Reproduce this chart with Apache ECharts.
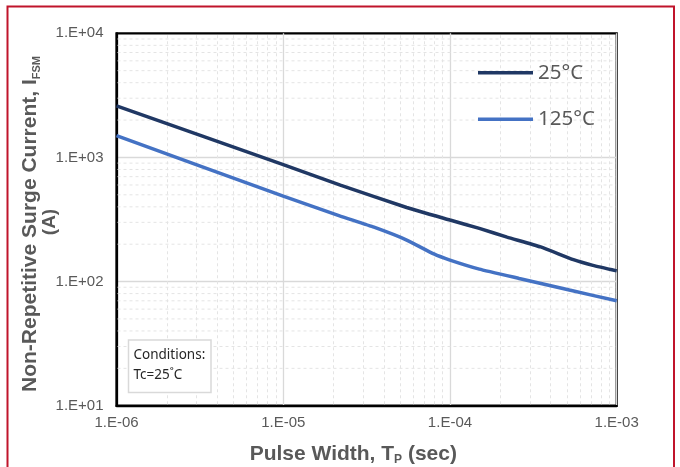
<!DOCTYPE html>
<html><head><meta charset="utf-8">
<script src="https://cdn.jsdelivr.net/npm/echarts@6/dist/echarts.min.js"></script>
<style>html,body{margin:0;padding:0;background:#fff}#c{width:680px;height:467px}</style>
</head><body><div id="c"></div>
<script>
// ---- data ----
const seriesNames = ['25°C', '125°C'];
const pulseWidth25 = [1e-6, 1e-5, 2.2e-5, 5.5e-5, 1e-4, 1.5e-4, 2.2e-4, 3.5e-4, 5.5e-4, 7.2e-4, 1e-3];
const current25    = [2600, 875, 598, 395, 313, 268, 228, 190, 150, 135, 122];
const pulseWidth125 = [1e-6, 1e-5, 2.2e-5, 3.5e-5, 5.5e-5, 8e-5, 1e-4, 1.5e-4, 2.6e-4, 5.2e-4, 1e-3];
const current125    = [1500, 488, 337, 274, 216, 167, 149, 126, 106, 85.5, 70];
const xTickLabels = ['1.E-06', '1.E-05', '1.E-04', '1.E-03'];
const yTickLabels = ['1.E+01', '1.E+02', '1.E+03', '1.E+04'];
const xMin = 1e-6, xMax = 1e-3, yMin = 1e1, yMax = 1e4;
const conditionLines = ['Conditions:', 'Tc=25˚C'];

// minor (2..9) log grid positions
function minorValues(lo, hi) {
  const out = [];
  for (let e = Math.round(Math.log10(lo)); e < Math.round(Math.log10(hi)); e++) {
    for (let k = 2; k <= 9; k++) out.push(k * Math.pow(10, e));
  }
  return out;
}
const minorX = minorValues(xMin, xMax);
const minorY = minorValues(yMin, yMax);

const ARIAL = "'Liberation Sans', Arial, sans-serif";
const GRAY = '#595959';
const MINOR = '#e4e4e4';

const chart = echarts.init(document.getElementById('c'), null, {renderer: 'canvas'});
const option = {
  animation: false,
  backgroundColor: '#fff',
  grid: {left: 116.5, right: 63.3, top: 33.3, bottom: 61.3, show: true,
         borderColor: '#000', borderWidth: 2.25, backgroundColor: 'rgba(0,0,0,0)'},
  legend: {
    data: seriesNames, orient: 'vertical', left: 478, top: 62.2, padding: 0,
    icon: 'rect', itemWidth: 55, itemHeight: 3.5, itemGap: 25.6, selectedMode: false,
    textStyle: {fontFamily: "'Noto Sans', sans-serif", fontSize: 20.5, color: GRAY, lineHeight: 20}
  },
  xAxis: {
    type: 'log', logBase: 10, min: xMin, max: xMax, splitNumber: 3,
    axisLine: {show: true, lineStyle: {color: '#000', width: 2.25}},
    axisTick: {show: false},
    axisLabel: {fontFamily: ARIAL, fontSize: 15, color: GRAY, margin: 10,
      formatter: v => xTickLabels[Math.round(Math.log10(v)) + 6] || ''},
    splitLine: {show: true, showMinLine: false, showMaxLine: false, lineStyle: {color: '#d9d9d9', width: 1.3}}
  },
  yAxis: {
    type: 'log', logBase: 10, min: yMin, max: yMax, splitNumber: 3,
    axisLine: {show: true, lineStyle: {color: '#000', width: 2.25}},
    axisTick: {show: false},
    axisLabel: {fontFamily: ARIAL, fontSize: 15, color: GRAY, margin: 13,
      formatter: v => yTickLabels[Math.round(Math.log10(v)) - 1] || ''},
    splitLine: {show: true, showMinLine: false, showMaxLine: false, lineStyle: {color: '#d9d9d9', width: 1.3}}
  },
  series: [
    {
      name: 'minor-grid-x', type: 'custom', silent: true, z: 1, clip: false,
      data: minorX.map(v => [v, yMin]),
      encode: {x: 0, y: 1},
      renderItem: (params, api) => {
        const p = api.coord([api.value(0), api.value(1)]);
        const cs = params.coordSys;
        const x = Math.round(p[0]);
        const children = [];
        for (let y = cs.y + 2; y < cs.y + cs.height - 1; y += 6) {
          children.push({type: 'rect', silent: true,
            shape: {x: x, y: y, width: 1, height: Math.min(3, cs.y + cs.height - 1 - y)},
            style: {fill: MINOR}});
        }
        return {type: 'group', silent: true, children: children};
      }
    },
    {
      name: 'minor-grid-y', type: 'custom', silent: true, z: 1, clip: false,
      data: minorY.map(v => [xMin, v]),
      encode: {x: 0, y: 1},
      renderItem: (params, api) => {
        const p = api.coord([api.value(0), api.value(1)]);
        const cs = params.coordSys;
        return {type: 'line', silent: true,
          shape: {x1: cs.x + 1, y1: p[1], x2: cs.x + cs.width - 1, y2: p[1]},
          style: {stroke: MINOR, lineWidth: 1, lineDash: [3, 3]}};
      }
    },
    {
      name: seriesNames[0], type: 'line', z: 3, showSymbol: false, smooth: 0.15,
      data: pulseWidth25.map((x, i) => [x, current25[i]]),
      lineStyle: {color: '#203864', width: 3.5}, itemStyle: {color: '#203864'}
    },
    {
      name: seriesNames[1], type: 'line', z: 3, showSymbol: false, smooth: 0.12,
      data: pulseWidth125.map((x, i) => [x, current125[i]]),
      lineStyle: {color: '#4472C4', width: 3.5}, itemStyle: {color: '#4472C4'}
    }
  ],
  graphic: [
    {type: 'rect', silent: true, shape: {x: 7.5, y: 6.5, width: 666.5, height: 480},
     style: {fill: 'none', stroke: '#C0142B', lineWidth: 2}, z: 100},
    {type: 'rect', silent: true, shape: {x: 128.5, y: 340, width: 82.5, height: 52.5},
     style: {fill: '#fff', stroke: '#d9d9d9', lineWidth: 1.5}, z: 50},
    {type: 'text', silent: true, x: 133.5, y: 355, z: 51,
     style: {text: conditionLines[0], fontFamily: "'Noto Sans', sans-serif", fontSize: 13.5,
             fill: '#262626', align: 'left', verticalAlign: 'middle'}},
    {type: 'text', silent: true, x: 133.5, y: 375, z: 51,
     style: {text: conditionLines[1], fontFamily: "'Noto Sans', sans-serif", fontSize: 13.5,
             fill: '#262626', align: 'left', verticalAlign: 'middle'}},
    {type: 'text', silent: true, x: 353.3, y: 454, z: 51,
     style: {text: '{m|Pulse Width, T}{s|P}{m| (sec)}', align: 'center', verticalAlign: 'middle',
       rich: {
         m: {fontFamily: ARIAL, fontSize: 21, fontWeight: 'bold', fill: GRAY, lineHeight: 24},
         s: {fontFamily: ARIAL, fontSize: 12, fontWeight: 'bold', fill: GRAY, lineHeight: 12, verticalAlign: 'bottom'}
       }}},
    {type: 'text', silent: true, x: 30, y: 224, rotation: Math.PI / 2, z: 51,
     style: {text: '{m|Non-Repetitive Surge Current, I}{s|FSM}', align: 'center', verticalAlign: 'middle',
       rich: {
         m: {fontFamily: ARIAL, fontSize: 21, fontWeight: 'bold', fill: GRAY, lineHeight: 24},
         s: {fontFamily: ARIAL, fontSize: 11, fontWeight: 'bold', fill: GRAY, lineHeight: 11, verticalAlign: 'bottom'}
       }}},
    {type: 'text', silent: true, x: 50, y: 222, rotation: Math.PI / 2, z: 51,
     style: {text: '(A)', fontFamily: ARIAL, fontSize: 19, fontWeight: 'bold', fill: GRAY,
             align: 'center', verticalAlign: 'middle'}}
  ]
};
chart.setOption(option);
</script>
</body></html>
